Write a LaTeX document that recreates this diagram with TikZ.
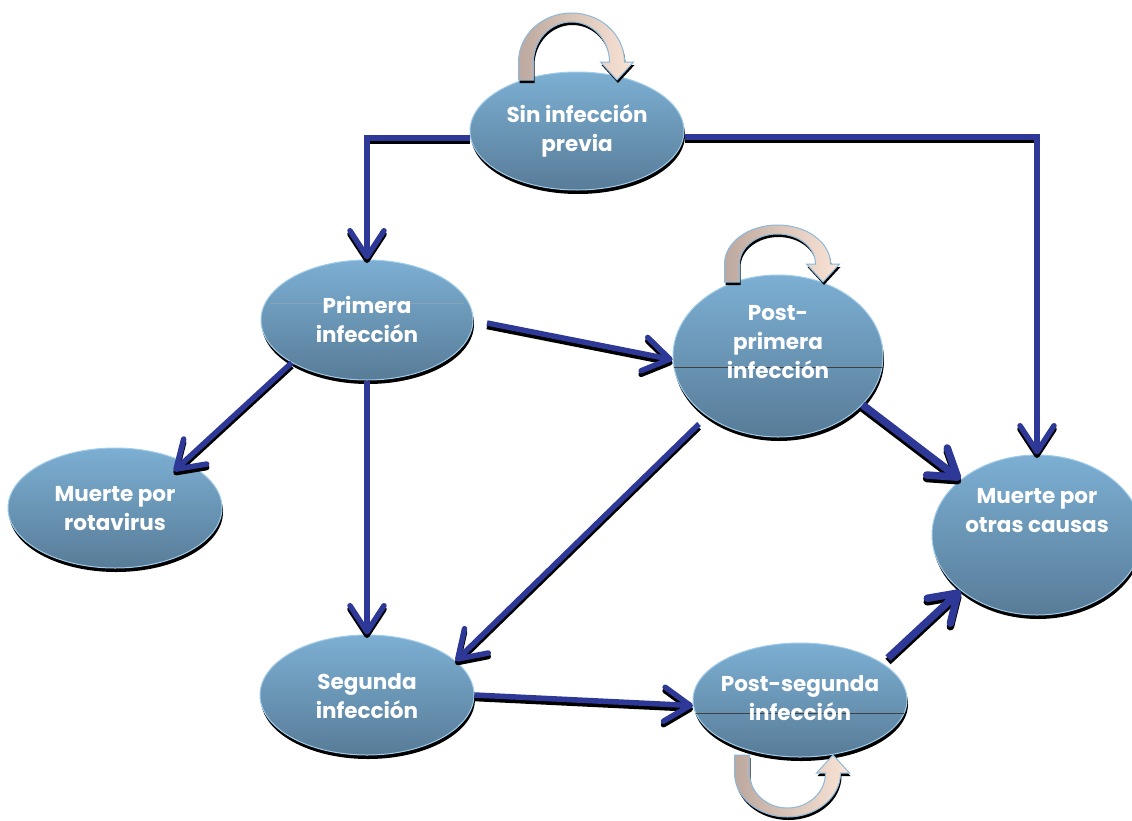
\documentclass[tikz,border=0pt]{standalone}
\usepackage{fontspec}
\newfontfamily\lblfont{Poppins}
\usetikzlibrary{shapes.geometric,arrows.meta,calc,shadows}
\definecolor{ellTop}{RGB}{124,175,211}
\definecolor{ellBot}{RGB}{88,124,152}
\definecolor{ellRim}{RGB}{160,204,234}
\definecolor{arrBlue}{RGB}{46,56,150}
\definecolor{loopL}{RGB}{188,168,158}
\definecolor{loopR}{RGB}{250,228,214}
\definecolor{loopRim}{RGB}{140,185,218}
\tikzset{
 st/.style={ellipse, inner sep=0pt, top color=ellTop, bottom color=ellBot, draw=ellRim, line width=1pt,
   drop shadow={shadow xshift=1pt, shadow yshift=-4pt, fill=black, opacity=1}},
 lbl/.style={text=white, align=center, font=\lblfont\bfseries\fontsize{21.5}{29}\selectfont, inner sep=0pt},
 conn/.style={draw=arrBlue, line width=5.5pt, -{Straight Barb[length=26pt,width=34pt,round]}},
 connsh/.style={conn, draw=black, transform canvas={shift={(0pt,-3.5pt)}}},
 thinln/.style={draw=black!75, line width=0.8pt},
 faintln/.style={draw=ellBot!70!white, line width=0.8pt},
 loopst/.style={left color=loopL, right color=loopR, draw=loopRim, line width=1pt},
}
\newcommand\conn[2][]{\draw[connsh,#1] #2; \draw[conn,#1] #2;}
\newcommand\looppath[1]{(-53,0) -- (-53,18) arc[start angle=180,end angle=0,x radius=53,y radius=#1] -- (62,18) -- (45.5,0) -- (29,18) -- (38,18) arc[start angle=0,end angle=180,x radius=38,y radius={#1-9}] -- (-38,0) -- cycle}
\newcommand\selfloop[4]{%
 \begin{scope}[shift={({#1+1},{-#2-3})},yscale=#4] \fill[black] \looppath{#3}; \end{scope}
 \begin{scope}[shift={(#1,-#2)},yscale=#4] \path[loopst] \looppath{#3}; \end{scope}}
\begin{document}
\begin{tikzpicture}[x=1pt,y=1pt]
\useasboundingbox (0,0) rectangle (1132,-820);
\fill[white] (0,0) rectangle (1132,-820);
% states
\node[st, minimum width=214pt, minimum height=118pt] (sin) at (577,-131) {};
\node[st, minimum width=212pt, minimum height=120pt] (pri) at (367,-320) {};
\node[st, minimum width=210pt, minimum height=162pt] (pp) at (778,-356) {};
\node[st, minimum width=214pt, minimum height=120pt] (mr) at (115,-508) {};
\node[st, minimum width=210pt, minimum height=160pt] (oc) at (1037,-535) {};
\node[st, minimum width=214pt, minimum height=120pt] (seg) at (367,-695) {};
\node[st, minimum width=214pt, minimum height=114pt] (ps) at (800,-700) {};
% thin lines across
\draw[faintln] ($(pri.center)+(-97,17)$) -- ($(pri.center)+(97,17)$);
\draw[thinln] ($(pp.center)+(-104,-11)$) -- ($(pp.center)+(104,-11)$);
\draw[thinln] ($(ps.center)+(-104,-13)$) -- ($(ps.center)+(104,-13)$);
% labels
\node[lbl] (t-sin) at (577,-131) {Sin infección\\previa};
\node[lbl] (t-pri) at (367,-319) {Primera\\infección};
\node[lbl] (t-pp) at (778,-342) {Post-\\primera\\infección};
\node[lbl] (t-mr) at (115,-509) {Muerte por\\rotavirus};
\node[lbl] (t-oc) at (1037,-511) {Muerte por\\otras causas};
\node[lbl] (t-seg) at (367,-696) {Segunda\\infección};
\node[lbl] (t-ps) at (800,-698) {Post-segunda\\infección};
% connectors
\coordinate (s-c) at (487,-323);
\coordinate (e-mr) at (174,-471);
\coordinate (s-f) at (699,-424);
\coordinate (s-i) at (888,-658);
\conn{($(sin.west)+(0,-7)$) -| (pri.north)}
\conn{($(sin.east)+(0,-6)$) -| (oc.north)}
\conn{(s-c) -- (pp.182)}
\conn{(pri.south west) -- (e-mr)}
\conn{(pri.south) -- (seg.north)}
\conn{(s-f) -- (seg.21)}
\conn[line width=7.5pt]{(pp.330) -- (oc.144)}
\conn{(seg.east) -- (ps.183)}
\conn[line width=7.5pt]{(s-i) -- (oc.216)}
% self loops
\selfloop{571.5}{80}{49}{1}
\selfloop{777.5}{282}{39}{1}
\selfloop{787.5}{755}{44}{-1}
\end{tikzpicture}
\end{document}
